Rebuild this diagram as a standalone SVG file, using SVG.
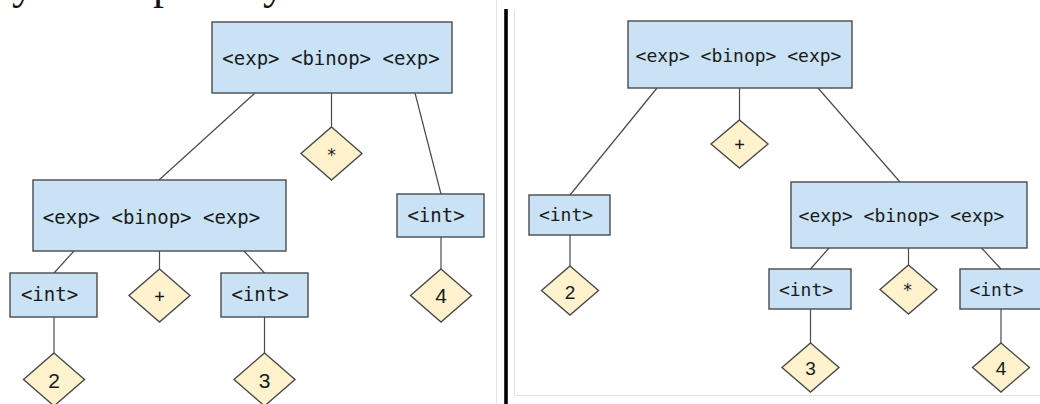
<svg xmlns="http://www.w3.org/2000/svg" width="1040" height="404" viewBox="0 0 1040 404">
  <style>
    .box { fill: #c9e2f5; stroke: #4a4a4a; stroke-width: 1.4; }
    .leaf { fill: #fff2cc; stroke: #4a4a4a; stroke-width: 1.4; }
    .edge { stroke: #4a4a4a; stroke-width: 1.2; fill: none; }
    .mono { font-family: "DejaVu Sans Mono", "Liberation Mono", monospace; fill: #1a1a1a; text-anchor: middle; }
    .big { font-size: 19px; }
    .small { font-size: 18px; }
    .op { font-size: 17px; }
    .num { font-family: "Liberation Sans", Arial, sans-serif; fill: #1a1a1a; text-anchor: middle; }
    .frame { stroke: #e4e4e4; stroke-width: 1; fill: none; }
  </style>

  <rect width="1040" height="404" fill="#ffffff"/>

  <!-- tail of the caption line above, clipped by the top edge -->
  <text font-family="'Liberation Serif', 'Times New Roman', serif" font-size="44" fill="#111" y="-1"><tspan x="-10" y="-1">by the</tspan><tspan x="153" y="-1">priority.</tspan></text>

  <!-- faint panel frames and the dividing rule -->
  <line class="frame" x1="496.5" y1="0" x2="496.5" y2="404"/>
  <polyline class="frame" points="514.5,10 514.5,395.5 1040,395.5"/>
  <line x1="506" y1="9" x2="506" y2="404" stroke="#000" stroke-width="3.6"/>

  <!-- connectors -->
  <g id="connectors">
    <!-- left tree: (2 + 3) * 4 -->
    <line class="edge" x1="255" y1="93" x2="159" y2="180"/>
    <line class="edge" x1="331.5" y1="93" x2="331.5" y2="127"/>
    <line class="edge" x1="415" y1="93" x2="441" y2="194"/>
    <line class="edge" x1="74" y1="251" x2="54" y2="273"/>
    <line class="edge" x1="159.5" y1="251" x2="159.5" y2="269"/>
    <line class="edge" x1="244" y1="251" x2="264.5" y2="273"/>
    <line class="edge" x1="54" y1="317" x2="54" y2="353"/>
    <line class="edge" x1="264.5" y1="317" x2="264.5" y2="353"/>
    <line class="edge" x1="441" y1="237" x2="441" y2="269"/>
    <!-- right tree: 2 + (3 * 4) -->
    <line class="edge" x1="657" y1="88" x2="570" y2="195"/>
    <line class="edge" x1="739.5" y1="88" x2="739.5" y2="120"/>
    <line class="edge" x1="818" y1="88" x2="900" y2="182"/>
    <line class="edge" x1="570" y1="235" x2="570" y2="266"/>
    <line class="edge" x1="829" y1="248" x2="810.5" y2="269"/>
    <line class="edge" x1="908.5" y1="248" x2="908.5" y2="265"/>
    <line class="edge" x1="981.5" y1="248" x2="1001" y2="269"/>
    <line class="edge" x1="810.5" y1="309" x2="810.5" y2="343"/>
    <line class="edge" x1="1001" y1="309" x2="1001" y2="343"/>
  </g>

  <!-- left tree nodes -->
  <g id="l-root">
    <rect class="box" x="212" y="22" width="240" height="71"/>
    <text class="mono big" x="331" y="65">&lt;exp&gt; &lt;binop&gt; &lt;exp&gt;</text>
  </g>
  <g id="l-mul">
    <polygon class="leaf" points="331.5,127 362,153.5 331.5,180 301,153.5"/>
    <text class="mono op" x="331.5" y="160.5">*</text>
  </g>
  <g id="l-sum">
    <rect class="box" x="33" y="180" width="253" height="71"/>
    <text class="mono big" x="151.5" y="223.5">&lt;exp&gt; &lt;binop&gt; &lt;exp&gt;</text>
  </g>
  <g id="l-int4">
    <rect class="box" x="397" y="194" width="87" height="43"/>
    <text class="mono big" x="436" y="221.5">&lt;int&gt;</text>
  </g>
  <g id="l-int2">
    <rect class="box" x="10" y="273" width="87" height="44"/>
    <text class="mono big" x="49.5" y="301">&lt;int&gt;</text>
  </g>
  <g id="l-plus">
    <polygon class="leaf" points="159.5,269 190,295.5 159.5,322 129,295.5"/>
    <text class="mono op" x="159.5" y="301.5">+</text>
  </g>
  <g id="l-int3">
    <rect class="box" x="221" y="273" width="87" height="44"/>
    <text class="mono big" x="260" y="301">&lt;int&gt;</text>
  </g>
  <g id="l-four">
    <polygon class="leaf" points="441,269 471.5,295.5 441,322 410.5,295.5"/>
    <text class="num" font-size="21" x="441" y="303">4</text>
  </g>
  <g id="l-two">
    <polygon class="leaf" points="54,353 84.5,379.5 54,406 23.5,379.5"/>
    <text class="num" font-size="21" x="54" y="387.5">2</text>
  </g>
  <g id="l-three">
    <polygon class="leaf" points="264.5,353 295,379.5 264.5,406 234,379.5"/>
    <text class="num" font-size="21" x="264.5" y="387.5">3</text>
  </g>

  <!-- right tree nodes -->
  <g id="r-root">
    <rect class="box" x="628" y="21" width="224" height="67"/>
    <text class="mono small" x="738.5" y="62">&lt;exp&gt; &lt;binop&gt; &lt;exp&gt;</text>
  </g>
  <g id="r-plus">
    <polygon class="leaf" points="739.5,120 768,144 739.5,168 711,144"/>
    <text class="mono op" x="739.5" y="150">+</text>
  </g>
  <g id="r-int2">
    <rect class="box" x="529" y="195" width="81" height="40"/>
    <text class="mono small" x="566" y="221">&lt;int&gt;</text>
  </g>
  <g id="r-two">
    <polygon class="leaf" points="570,266 598.5,290.5 570,315 541.5,290.5"/>
    <text class="num" font-size="19" x="570" y="298.5">2</text>
  </g>
  <g id="r-mul-expr">
    <rect class="box" x="791" y="182" width="236" height="66"/>
    <text class="mono small" x="901.5" y="222">&lt;exp&gt; &lt;binop&gt; &lt;exp&gt;</text>
  </g>
  <g id="r-int3">
    <rect class="box" x="769" y="269" width="82" height="40"/>
    <text class="mono small" x="806" y="295.5">&lt;int&gt;</text>
  </g>
  <g id="r-mul">
    <polygon class="leaf" points="908.5,265 937,289.5 908.5,314 880,289.5"/>
    <text class="mono op" x="907.5" y="295.5">*</text>
  </g>
  <g id="r-int4">
    <rect class="box" x="960" y="269" width="82" height="40"/>
    <text class="mono small" x="996.5" y="295.5">&lt;int&gt;</text>
  </g>
  <g id="r-three">
    <polygon class="leaf" points="810.5,343 839,367.5 810.5,392 782,367.5"/>
    <text class="num" font-size="19" x="810.5" y="374.5">3</text>
  </g>
  <g id="r-four">
    <polygon class="leaf" points="1001,343 1029.5,367.5 1001,392 972.5,367.5"/>
    <text class="num" font-size="19" x="1001" y="374.5">4</text>
  </g>
</svg>
